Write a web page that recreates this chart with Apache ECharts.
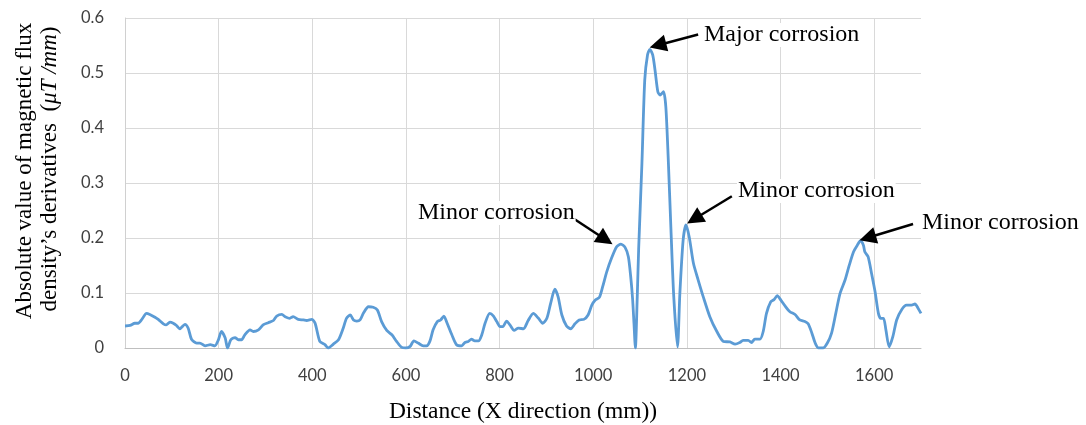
<!DOCTYPE html>
<html>
<head>
<meta charset="utf-8">
<script src="https://cdn.jsdelivr.net/npm/echarts@6/dist/echarts.min.js"></script>
<style>html,body{margin:0;padding:0;background:#fff;}#c{width:1086px;height:425px;}</style>
</head>
<body>
<div id="c"></div>
<script>
// Distance (mm)
const distance = [0,11,21,28,36,46,53,64,71,82,88,96,103,110,117,128,135,142,153,160,171,182,192,199,206,214,219,226,235,242,249,256,267,274,285,295,306,317,324,335,342,352,359,370,381,388,399,406,416,427,434,445,456,466,473,481,488,495,502,509,520,530,539,548,559,570,580,591,600,609,617,626,637,644,651,658,667,674,681,688,698,708,719,726,733,740,747,755,762,769,779,787,794,801,807,815,822,831,840,851,861,872,883,892,901,909,918,925,933,943,952,961,970,980,989,997,1004,1013,1020,1029,1039,1050,1059,1068,1075,1080,1084,1087,1090,1094,1097,1104,1110,1116,1121,1127,1132,1138,1143,1150,1155,1160,1166,1172,1180,1185,1192,1198,1205,1214,1224,1235,1249,1264,1278,1292,1303,1313,1320,1331,1338,1345,1356,1363,1370,1379,1386,1393,1400,1410,1420,1431,1441,1452,1459,1467,1474,1481,1491,1500,1509,1518,1527,1538,1547,1556,1564,1571,1577,1580,1587,1595,1602,1609,1614,1620,1625,1632,1640,1648,1659,1669,1680,1687,1694,1700];
// Absolute value of magnetic flux density's derivatives (uT/mm)
const derivative = [0.040,0.041,0.045,0.045,0.052,0.063,0.061,0.056,0.052,0.044,0.042,0.047,0.045,0.041,0.035,0.043,0.036,0.016,0.009,0.009,0.004,0.006,0.004,0.014,0.030,0.018,0.000,0.015,0.019,0.015,0.015,0.024,0.033,0.030,0.033,0.042,0.046,0.050,0.058,0.061,0.057,0.054,0.057,0.052,0.051,0.050,0.052,0.045,0.012,0.006,0.000,0.007,0.015,0.036,0.054,0.060,0.051,0.049,0.051,0.063,0.075,0.074,0.069,0.048,0.032,0.024,0.012,0.001,0.000,0.003,0.013,0.009,0.004,0.004,0.012,0.033,0.048,0.051,0.058,0.045,0.024,0.006,0.004,0.010,0.012,0.016,0.013,0.013,0.024,0.045,0.063,0.058,0.048,0.039,0.039,0.049,0.042,0.032,0.036,0.035,0.050,0.063,0.054,0.045,0.054,0.081,0.107,0.093,0.060,0.040,0.035,0.044,0.051,0.052,0.060,0.078,0.087,0.092,0.111,0.139,0.163,0.184,0.189,0.183,0.166,0.130,0.090,0.045,0.000,0.093,0.180,0.336,0.487,0.533,0.543,0.533,0.505,0.466,0.460,0.466,0.439,0.348,0.215,0.093,0.002,0.099,0.196,0.224,0.202,0.154,0.124,0.093,0.057,0.030,0.012,0.011,0.007,0.010,0.014,0.014,0.010,0.016,0.016,0.030,0.063,0.084,0.088,0.095,0.088,0.076,0.066,0.061,0.051,0.048,0.044,0.027,0.009,0.000,0.000,0.009,0.027,0.063,0.099,0.124,0.151,0.175,0.187,0.195,0.187,0.175,0.166,0.133,0.102,0.063,0.054,0.054,0.033,0.002,0.021,0.051,0.070,0.078,0.078,0.080,0.072,0.063];

const xTicks = [0,200,400,600,800,1000,1200,1400,1600];
const yTicks = [0,0.1,0.2,0.3,0.4,0.5,0.6];

// annotation arrows: [tail, head] in data coordinates
const arrowLabels = ['Major corrosion','Minor corrosion','Minor corrosion','Minor corrosion'];
const arrowTails = [[1224,0.570],[957,0.236],[1296,0.276],[1683,0.2255]];
const arrowHeads = [[1138,0.5505],[1026,0.1972],[1216,0.2345],[1586,0.2005]];

const chart = echarts.init(document.getElementById('c'), null, {renderer:'canvas'});
const serif = '"Liberation Serif","Times New Roman",serif';
const tickFont = 'Lato, "Noto Sans", sans-serif';

const lineData = distance.map((d,i)=>[d, derivative[i]]);
const markData = arrowTails.map((t,i)=>[{coord:t},{coord:arrowHeads[i]}]);

const annoPos = [[703,35],[417,213],[737,191],[921,223]];

chart.setOption({
  animation:false,
  grid:{left:125,right:165,top:18,bottom:77,containLabel:false,outerBoundsMode:'none'},
  xAxis:{
    type:'value',min:0,max:1700,interval:200,
    axisLine:{show:true,lineStyle:{color:'#BFBFBF',width:1}},
    axisTick:{show:false},
    axisLabel:{margin:19,color:'#404040',fontFamily:tickFont,fontSize:16.5,showMaxLabel:false,
      formatter:v=> xTicks.indexOf(v)>=0 ? String(v) : ''},
    splitLine:{show:true,showMaxLine:false,lineStyle:{color:'#D9D9D9',width:1}},
    name:'Distance (X direction (mm))',nameLocation:'middle',nameGap:52,
    nameTextStyle:{fontFamily:serif,fontSize:23.5,color:'#000'}
  },
  yAxis:{
    type:'value',min:0,max:0.6,interval:0.1,
    axisLine:{show:true,lineStyle:{color:'#D0D0D0',width:1}},
    axisTick:{show:false},
    axisLabel:{margin:21,color:'#404040',fontFamily:tickFont,fontSize:16.5,
      formatter:v=>{const t=yTicks.find(k=>Math.abs(k-v)<1e-9);return t===undefined?'':String(t);}},
    splitLine:{show:true,lineStyle:{color:'#D9D9D9',width:1}}
  },
  graphic:[
    {type:'text',x:25,y:171,rotation:Math.PI/2,style:{text:'Absolute value of magnetic flux',font:'23px '+serif,fill:'#000',align:'center',verticalAlign:'middle',textAlign:'center',textVerticalAlign:'middle'}},
    {type:'text',x:50,y:169,rotation:Math.PI/2,style:{text:'{a|density’s derivatives  (}{i|μT /mm}{a|)}',
      rich:{a:{fontFamily:serif,fontSize:23,fill:'#000',color:'#000'},i:{fontFamily:serif,fontSize:23,fontStyle:'italic',fill:'#000',color:'#000'}},
      font:'23px '+serif,fill:'#000',align:'center',verticalAlign:'middle',textAlign:'center',textVerticalAlign:'middle'}}
  ].concat(arrowLabels.map((t,i)=>({type:'text',x:annoPos[i][0],y:annoPos[i][1],z:10,
      style:{text:t,font:'24px '+serif,fill:'#000',align:'left',verticalAlign:'middle',textAlign:'left',textVerticalAlign:'middle',backgroundColor:'#fff',padding:[0,1]}}))),
  series:[{
    type:'line',data:lineData,showSymbol:false,smooth:0.25,
    lineStyle:{color:'#5B9BD5',width:2.8},itemStyle:{color:'#5B9BD5'},
    markLine:{silent:true,symbol:['none','triangle'],symbolSize:17,animation:false,
      label:{show:false},emphasis:{disabled:true},
      lineStyle:{color:'#000',width:2.5,type:'solid'},itemStyle:{color:'#000'},
      data:markData}
  }]
});
</script>
</body>
</html>
